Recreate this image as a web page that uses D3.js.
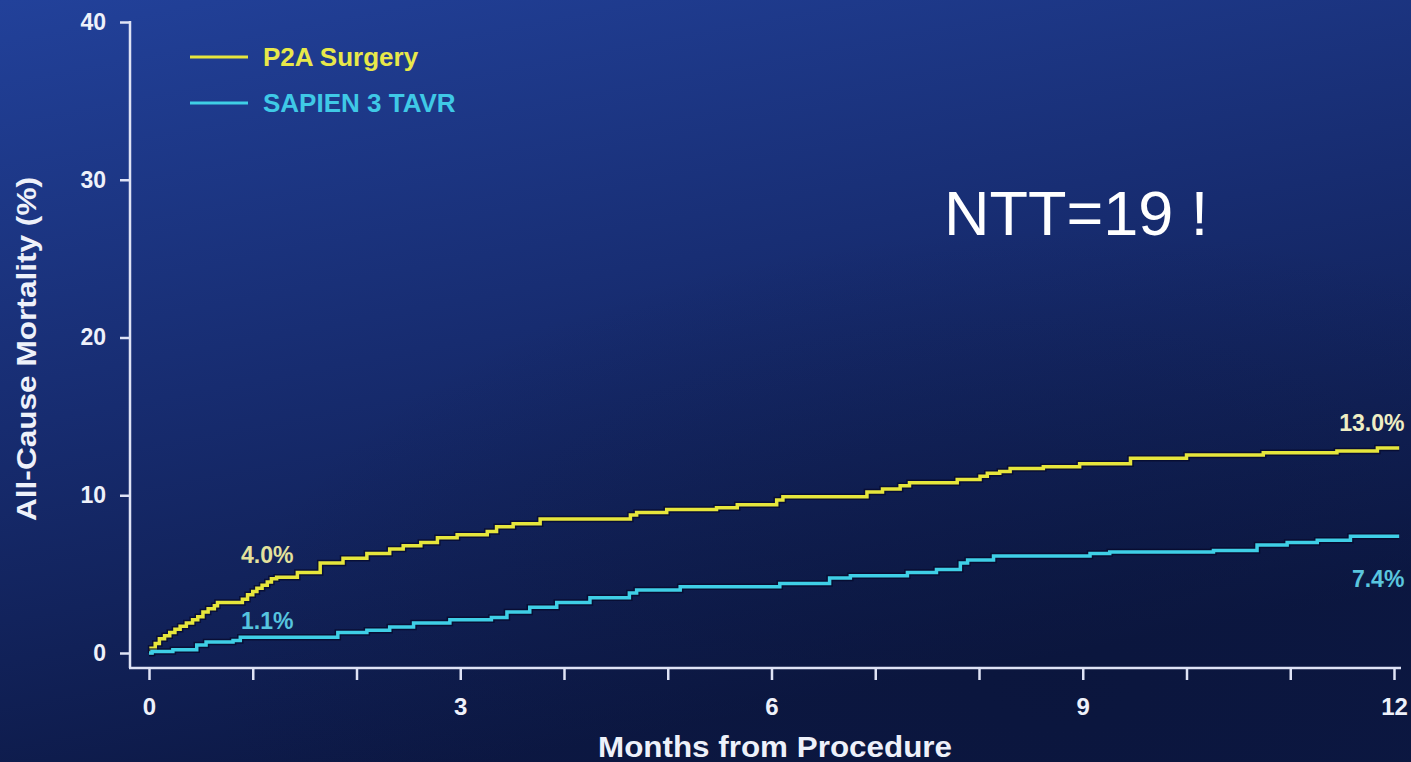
<!DOCTYPE html>
<html>
<head>
<meta charset="utf-8">
<script src="https://cdn.jsdelivr.net/npm/d3@7"></script>
<style>
  html, body { margin: 0; padding: 0; background: #0f1d50; }
  svg { display: block; }
  text { font-family: "Liberation Sans", Arial, sans-serif; }
</style>
</head>
<body>
<svg id="chart" width="1411" height="762"></svg>
<script>
// ---- data (months, cumulative all-cause mortality %) ----
const surgeryMonths = [0, 0.02, 0.06, 0.10, 0.15, 0.20, 0.25, 0.30, 0.36, 0.42, 0.47, 0.52, 0.57, 0.63, 0.66, 0.90, 0.95, 1.00, 1.04, 1.09, 1.14, 1.18, 1.23, 1.43, 1.65, 1.87, 2.10, 2.32, 2.45, 2.62, 2.78, 2.97, 3.26, 3.35, 3.51, 3.77, 4.64, 4.70, 4.99, 5.47, 5.67, 6.05, 6.11, 6.92, 7.07, 7.24, 7.33, 7.79, 8.01, 8.08, 8.20, 8.30, 8.62, 8.97, 9.46, 10.00, 10.74, 11.45, 11.84, 12.05];
const surgeryValues = [0, 0.3, 0.6, 0.9, 1.1, 1.3, 1.5, 1.7, 1.9, 2.1, 2.3, 2.6, 2.8, 3.0, 3.2, 3.4, 3.7, 3.9, 4.1, 4.3, 4.5, 4.7, 4.8, 5.1, 5.7, 6.0, 6.3, 6.6, 6.8, 7.0, 7.3, 7.5, 7.7, 8.0, 8.2, 8.5, 8.75, 8.9, 9.1, 9.2, 9.4, 9.7, 9.9, 10.2, 10.4, 10.6, 10.8, 11.0, 11.2, 11.4, 11.5, 11.7, 11.8, 12.0, 12.35, 12.55, 12.7, 12.8, 13.0, 13.0];

const tavrMonths = [0, 0.03, 0.23, 0.46, 0.55, 0.81, 0.88, 1.82, 2.10, 2.32, 2.55, 2.90, 3.30, 3.45, 3.67, 3.93, 4.25, 4.63, 4.70, 5.12, 6.08, 6.56, 6.76, 7.31, 7.59, 7.82, 7.89, 8.14, 9.07, 9.26, 10.26, 10.68, 10.97, 11.26, 11.58, 12.05];
const tavrValues  = [0, 0.1, 0.2, 0.5, 0.7, 0.8, 1.0, 1.3, 1.45, 1.65, 1.9, 2.1, 2.25, 2.6, 2.9, 3.2, 3.5, 3.8, 4.0, 4.2, 4.4, 4.75, 4.9, 5.1, 5.3, 5.7, 5.9, 6.15, 6.3, 6.4, 6.5, 6.85, 7.0, 7.15, 7.4, 7.4];

const seriesNames = ["P2A Surgery", "SAPIEN 3 TAVR"];
const seriesColors = ["#e6e63c", "#3fcfe6"];
const xTicksAll = [0,1,2,3,4,5,6,7,8,9,10,11,12];
const xTickLabels = [0, 3, 6, 9, 12];
const yTicks = [0, 10, 20, 30, 40];

// annotations: text, month, value (baseline position)
const annotations = [
  {text: "4.0%", m: 1.14, v: 5.7, color: "#e4e29c", anchor: "middle"},
  {text: "1.1%", m: 1.14, v: 1.5, color: "#56c4de", anchor: "middle"},
  {text: "13.0%", m: 12.1, v: 14.1, color: "#efeec4", anchor: "end"},
  {text: "7.4%", m: 12.1, v: 4.2, color: "#5ac5de", anchor: "end"}
];

// ---- drawing ----
const svg = d3.select("#chart");
const W = 1411, H = 762;

const defs = svg.append("defs");
const bg = defs.append("linearGradient").attr("id", "bg")
  .attr("x1", "0").attr("y1", "0").attr("x2", "0.35").attr("y2", "1");
bg.append("stop").attr("offset", "0").attr("stop-color", "#22419a");
bg.append("stop").attr("offset", "0.5").attr("stop-color", "#172c70");
bg.append("stop").attr("offset", "1").attr("stop-color", "#0c1844");
svg.append("rect").attr("width", W).attr("height", H).attr("fill", "url(#bg)");
const rg = defs.append("radialGradient").attr("id", "rg")
  .attr("cx", "0.75").attr("cy", "0.9").attr("r", "0.6");
rg.append("stop").attr("offset", "0").attr("stop-color", "#0a1438").attr("stop-opacity", 0.55);
rg.append("stop").attr("offset", "1").attr("stop-color", "#0a1438").attr("stop-opacity", 0);
svg.append("rect").attr("width", W).attr("height", H).attr("fill", "url(#rg)");

const x = d3.scaleLinear().domain([0, 12]).range([149, 1394]);
const y = d3.scaleLinear().domain([0, 40]).range([653, 22]);

const axisColor = "#dfe3f5";
const axisX0 = 130, axisY0 = 668;

// axis lines
svg.append("line").attr("x1", axisX0).attr("x2", axisX0).attr("y1", y(40) - 1).attr("y2", axisY0)
  .attr("stroke", axisColor).attr("stroke-width", 2.5);
svg.append("line").attr("x1", axisX0 - 1).attr("x2", 1401).attr("y1", axisY0).attr("y2", axisY0)
  .attr("stroke", axisColor).attr("stroke-width", 2.5);

// y axis ticks
const yAxis = d3.axisLeft(y).tickValues(yTicks).tickSize(10).tickPadding(14).tickFormat(d3.format("d"));
const gy = svg.append("g").attr("transform", `translate(${axisX0},0)`).call(yAxis);
gy.select(".domain").remove();
gy.selectAll(".tick line").attr("stroke", axisColor).attr("stroke-width", 2.5);
gy.selectAll(".tick text").attr("fill", "#eef1fa").attr("font-size", 23).attr("font-weight", "bold")
  .attr("font-family", "Liberation Sans, Arial, sans-serif");

// x axis ticks (every month), labels every 3
const xAxis = d3.axisBottom(x).tickValues(xTicksAll).tickSize(12).tickPadding(18)
  .tickFormat(d => xTickLabels.includes(d) ? String(d) : "");
const gx = svg.append("g").attr("transform", `translate(0,${axisY0})`).call(xAxis);
gx.select(".domain").remove();
gx.selectAll(".tick line").attr("stroke", axisColor).attr("stroke-width", 2.5);
gx.selectAll(".tick text").attr("fill", "#eef1fa").attr("font-size", 24).attr("font-weight", "bold")
  .attr("font-family", "Liberation Sans, Arial, sans-serif");

// axis titles
svg.append("text").attr("x", 775).attr("y", 757).attr("text-anchor", "middle")
  .attr("fill", "#eef1fa").attr("font-size", 29).attr("font-weight", "bold")
  .attr("textLength", 354).attr("lengthAdjust", "spacingAndGlyphs")
  .text("Months from Procedure");
svg.append("text").attr("transform", "translate(36,349) rotate(-90)").attr("text-anchor", "middle")
  .attr("fill", "#eef1fa").attr("font-size", 28).attr("font-weight", "bold")
  .attr("textLength", 344).attr("lengthAdjust", "spacingAndGlyphs")
  .text("All-Cause Mortality (%)");

// curves
const line = d3.line().x(d => x(d[0])).y(d => y(d[1])).curve(d3.curveStepAfter);
const series = [
  d3.zip(surgeryMonths, surgeryValues),
  d3.zip(tavrMonths, tavrValues)
];
series.forEach((data, i) => {
  svg.append("path").datum(data).attr("d", line).attr("fill", "none")
    .attr("stroke", "#05092a").attr("stroke-opacity", 0.7).attr("stroke-width", 6.5)
    .attr("stroke-linejoin", "miter");
  svg.append("path").datum(data).attr("d", line).attr("fill", "none")
    .attr("stroke", seriesColors[i]).attr("stroke-width", 3.5)
    .attr("stroke-linejoin", "miter");
});

// legend
const legendY = [57, 103];
seriesNames.forEach((name, i) => {
  svg.append("line").attr("x1", 190).attr("x2", 248).attr("y1", legendY[i]).attr("y2", legendY[i])
    .attr("stroke", seriesColors[i]).attr("stroke-width", 3);
  svg.append("text").attr("x", 263).attr("y", legendY[i] + 9)
    .attr("fill", i === 0 ? "#e8e84a" : "#3fc9e6").attr("font-size", 26).attr("font-weight", "bold")
    .text(name);
});

// annotations
annotations.forEach(a => {
  svg.append("text").attr("x", x(a.m)).attr("y", y(a.v)).attr("text-anchor", a.anchor)
    .attr("fill", a.color).attr("font-size", 23).attr("font-weight", "bold")
    .text(a.text);
});

// NTT note
svg.append("text").attr("x", 944).attr("y", 235).attr("fill", "#ffffff")
  .attr("font-size", 63).attr("font-family", "Liberation Sans, Arial, sans-serif")
  .text("NTT=19 !");
</script>
</body>
</html>
